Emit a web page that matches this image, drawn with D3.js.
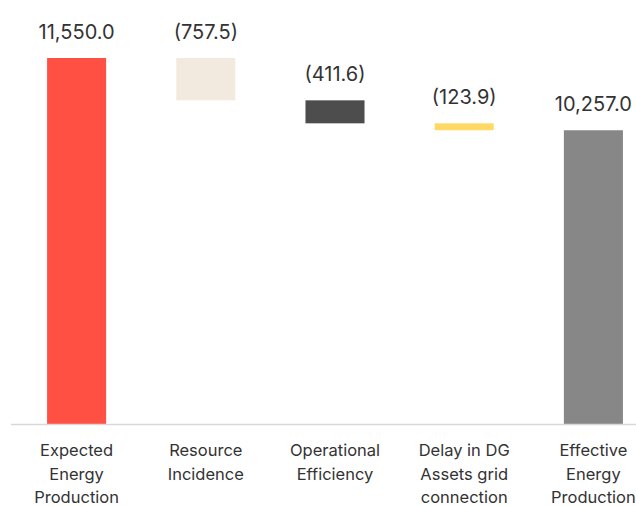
<!DOCTYPE html>
<html>
<head>
<meta charset="utf-8">
<script src="https://cdn.jsdelivr.net/npm/d3@7"></script>
<style>
  body { margin: 0; background: #fff; }
  text { font-family: "Inter", "Lato", sans-serif; fill: #333; }
</style>
</head>
<body>
<div id="chart"></div>
<script type="text/javascript">

  var w = 636, h = 506;

  // data
  var categories = [
    ["Expected", "Energy", "Production"],
    ["Resource", "Incidence"],
    ["Operational", "Efficiency"],
    ["Delay in DG", "Assets grid", "connection"],
    ["Effective", "Energy", "Production"]
  ];
  var values = [11550.0, -757.5, -411.6, -123.9, 10257.0];
  var kinds = ["total", "delta", "delta", "delta", "total"];
  var colors = ["#FF5043", "#F2E9DF", "#4D4D4D", "#FFD966", "#878787"];

  // build start/end for each bar of the waterfall
  var run = 0;
  var bars = values.map(function(v, i) {
    var b;
    if (kinds[i] == "total") { b = {y0: 0, y1: v}; run = v; }
    else { b = {y0: run, y1: run + v}; run = run + v; }
    b.i = i; b.v = v;
    return b;
  });

  var baseY = 424;
  var x = d3.scaleBand()
            .domain(d3.range(values.length))
            .range([12, 658])
            .paddingInner(0.543)
            .paddingOuter(0.2715);
  var y = d3.scaleLinear()
            .domain([5000, 11550])
            .range([baseY, 58]);

  var fmt = d3.format(",.1f");
  function label(d) {
    return d.v < 0 ? "(" + fmt(-d.v) + ")" : fmt(d.v);
  }

  var svg = d3.select("#chart")
              .append("svg")
              .attr("width", w)
              .attr("height", h);

  svg.selectAll("rect.bar")
     .data(bars)
     .enter()
     .append("rect")
     .attr("class", "bar")
     .attr("x", function(d) { return x(d.i); })
     .attr("width", x.bandwidth())
     .attr("y", function(d) { return y(Math.max(d.y0, d.y1)); })
     .attr("height", function(d) {
        var lo = Math.max(y.domain()[0], Math.min(d.y0, d.y1));
        return y(lo) - y(Math.max(d.y0, d.y1));
     })
     .style("fill", function(d) { return colors[d.i]; });

  // value labels
  svg.selectAll("text.val")
     .data(bars)
     .enter()
     .append("text")
     .attr("class", "val")
     .attr("x", function(d) { return x(d.i) + x.bandwidth() / 2; })
     .attr("y", function(d) { return y(Math.max(d.y0, d.y1)) - 19; })
     .attr("text-anchor", "middle")
     .style("font-size", "20px")
     .text(label);

  // baseline
  svg.append("line")
     .attr("x1", 11).attr("x2", w)
     .attr("y1", baseY + 0.5).attr("y2", baseY + 0.5)
     .attr("stroke", "#d9d9d9")
     .attr("stroke-width", 1.5);

  // category labels
  var cat = svg.selectAll("text.cat")
     .data(categories)
     .enter()
     .append("text")
     .attr("class", "cat")
     .attr("text-anchor", "middle")
     .style("font-size", "16.5px");
  cat.selectAll("tspan")
     .data(function(d, i) { return d.map(function(s) { return {s: s, i: i}; }); })
     .enter()
     .append("tspan")
     .attr("x", function(d) { return x(d.i) + x.bandwidth() / 2; })
     .attr("y", function(d, j) { return 456 + j * 23.5; })
     .text(function(d) { return d.s; });

</script>
</body>
</html>
